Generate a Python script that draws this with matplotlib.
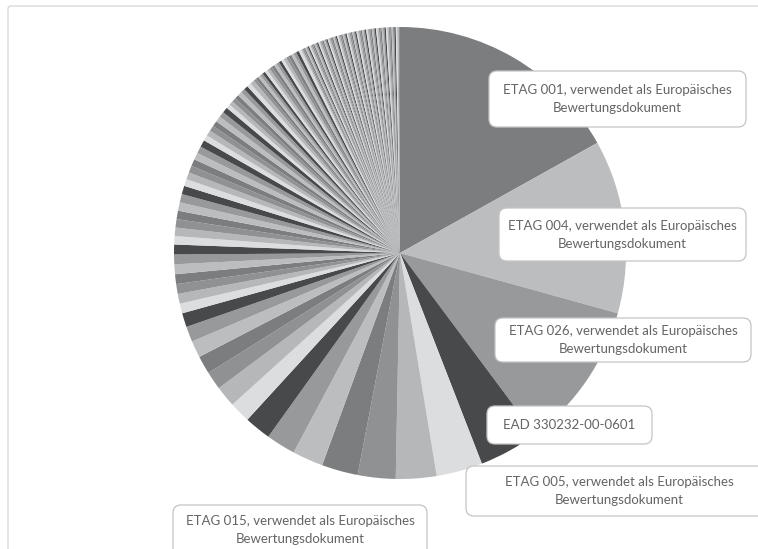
import numpy as np
import matplotlib
matplotlib.use("Agg")
import matplotlib.pyplot as plt
from matplotlib.patches import FancyBboxPatch

plt.rcParams['font.family'] = ['Lato', 'DejaVu Sans']

# Anteile der Bewertungsgrundlagen (absteigend sortiert)
values = [
    169, 124, 105, 43, 33, 29, 27, 26, 22, 21, 19, 15, 15, 13, 13, 12, 11, 10,
    7, 7, 7, 7, 7, 7, 7,
    6, 6, 6, 6, 6, 6, 6,
    5, 5, 5, 5, 5, 5, 5,
    4, 4, 4, 4, 4, 4, 4,
    3, 3, 3, 3, 3, 3, 3, 3, 3,
    2, 2, 2, 2, 2, 2, 2, 2, 2, 2, 2, 2, 2, 2, 2, 2, 2, 2, 2, 2,
    1, 1, 1, 1, 1, 1, 1, 1, 1, 1, 1, 1, 1, 1, 1, 1, 1, 1, 1, 1,
    1, 1, 1, 1, 1, 1, 1, 1, 1, 1, 1, 1, 1, 1, 1, 1, 1, 1, 1, 1,
    1, 1, 1, 1, 1, 1, 1, 1, 1, 1, 1, 1, 1, 1, 1, 1, 1, 1, 1, 1,
    1, 1, 1, 1, 1, 1, 1, 1, 1, 1, 1, 1,
]

# Beschriftete Segmente
names = [
    "ETAG 001, verwendet als Europäisches\nBewertungsdokument",
    "ETAG 004, verwendet als Europäisches\nBewertungsdokument",
    "ETAG 026, verwendet als Europäisches\nBewertungsdokument",
    "EAD 330232-00-0601",
    "ETAG 005, verwendet als Europäisches\nBewertungsdokument",
    "ETAG 015, verwendet als Europäisches\nBewertungsdokument",
]

palette = ['#7c7d7f', '#bcbdbf', '#97999b', '#48494b', '#dcdddf', '#b6b7b9', '#8f9193']
colors = [palette[i % len(palette)] for i in range(len(values))]

W, H = 758, 549
fig = plt.figure(figsize=(W / 100, H / 100), dpi=100)
ax = fig.add_axes([0, 0, 1, 1])

ax.pie(values, colors=colors, startangle=90, counterclock=False,
       center=(400, H - 253), radius=226,
       wedgeprops=dict(linewidth=0, antialiased=True))

# Rahmen des Diagrammbereichs
frame = FancyBboxPatch((8, -20), W + 20, H - 6 + 20,
                       boxstyle="round,pad=0,rounding_size=3",
                       fc='none', ec='#d9d9d9', lw=1.0, zorder=0)
ax.add_patch(frame)

# Datenbeschriftungen (Pixelposition: x0, y0, x1, y1 von oben gemessen)
boxes = [
    (489, 71, 746, 127),
    (499, 208, 746, 261),
    (495, 318, 751, 362),
    (487, 406, 652, 444),
    (466, 466, 772, 516),
    (173, 505, 427, 562),
]
for name, (x0, y0, x1, y1) in zip(names, boxes):
    p = FancyBboxPatch((x0, H - y1), x1 - x0, y1 - y0,
                       boxstyle="round,pad=0,rounding_size=8",
                       fc='white', ec='#c4c4c4', lw=0.9, zorder=5)
    ax.add_patch(p)
    ty = (y0 + y1) / 2
    if y1 > H:
        ty = 530
    ax.text((x0 + x1) / 2, H - ty, name, ha='center', va='center',
            fontsize=9.5, color='#646464', linespacing=1.6, zorder=6)

ax.set_xlim(0, W)
ax.set_ylim(0, H)
ax.set_aspect('equal')
ax.axis('off')

fig.savefig('out.png', dpi=100, facecolor='white')
